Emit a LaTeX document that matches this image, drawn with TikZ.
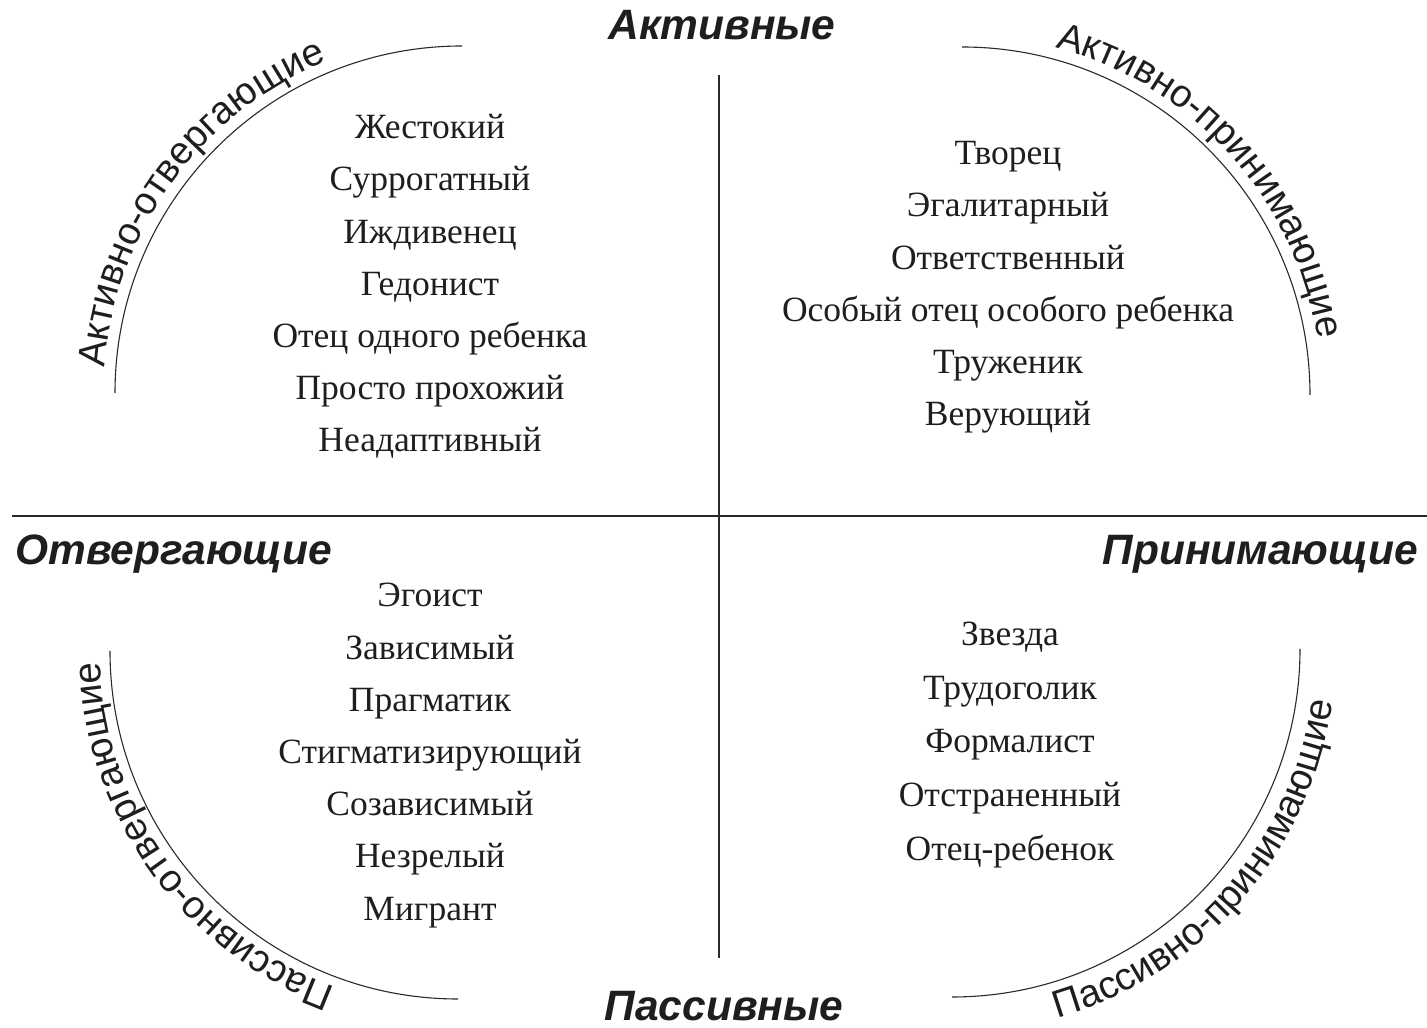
\documentclass[tikz,border=0pt]{standalone}
\usepackage{fontspec}
\setmainfont{Liberation Serif}
\newfontfamily\labelfont{Liberation Sans}
\usetikzlibrary{positioning, calc, decorations.text}
\definecolor{InkBlack}{HTML}{1E1E1E}
\definecolor{AxisGray}{HTML}{2A2A2A}

\begin{document}
\begin{tikzpicture}[
      x=1pt, y=1pt,
      axis/.style={AxisGray, line width=2pt},
      rim/.style={AxisGray, line width=1.1pt},
      pole/.style={font=\labelfont\bfseries\itshape\fontsize{42.5}{46}\selectfont, text=InkBlack, inner sep=0pt},
      types/.style={font=\fontsize{35.5}{52.2}\selectfont, align=center, text=InkBlack, inner sep=0pt},
      arclabel/.style={decorate, decoration={text along path, text align=left, text color=InkBlack,
          text={|\labelfont\fontsize{38.5}{42}\selectfont|#1}}}
  ]
    \useasboundingbox (0,0) rectangle (1427,1028);
    \fill[white] (0,0) rectangle (1427,1028);

    % axes
    \coordinate (vTop) at (719,953);
    \coordinate (vBot) at (719,70);
    \coordinate (hLeft) at (12,512);
    \coordinate (hRight) at (1427,512);
    \draw[axis] (vTop) -- (vBot);
    \draw[axis] (hLeft) -- (hRight);

    % poles
    \node[pole] (active) at (722,1003) {Активные};
    \node[pole] (passive) at (724,22) {Пассивные};
    \node[pole, anchor=west] (rejecting) at (15,474) {Отвергающие};
    \node[pole, anchor=east] (accepting) at (1418,474) {Принимающие};

    % quarter arcs
    \coordinate (tlC) at (462,635);
    \coordinate (trC) at (962,633);
    \coordinate (blC) at (458,377);
    \coordinate (brC) at (952,379);
    \draw[rim] ($(tlC)+(90:347pt)$) arc[start angle=90, end angle=180, radius=347pt];
    \draw[rim] ($(trC)+(90:348pt)$) arc[start angle=90, end angle=0, radius=348pt];
    \draw[rim] ($(blC)+(180:348pt)$) arc[start angle=180, end angle=270, radius=348pt];
    \draw[rim] ($(brC)+(0:348pt)$) arc[start angle=0, end angle=-90, radius=348pt];

    \path[arclabel=Активно-отвергающие] ($(tlC)+(176:358pt)$) arc[start angle=176, end angle=88, radius=358pt];
    \path[arclabel=Активно-принимающие] ($(trC)+(75:360pt)$) arc[start angle=75, end angle=-12, radius=360pt];
    \path[arclabel=Пассивно-отвергающие] ($(blC)+(250:358pt)$) arc[start angle=250, end angle=164, radius=358pt];
    \path[arclabel=Пассивно-принимающие] ($(brC)+(-74:384pt)$) arc[start angle=-74, end angle=12, radius=384pt];

    % types of fathers
    \node[types] (tlList) at (430,741.5) {Жестокий\\Суррогатный\\Иждивенец\\Гедонист\\Отец одного ребенка\\Просто прохожий\\Неадаптивный};
    \node[types] (trList) at (1008,740.5) {Творец\\Эгалитарный\\Ответственный\\Особый отец особого ребенка\\Труженик\\Верующий};
    \node[types] (blList) at (430,272.5) {Эгоист\\Зависимый\\Прагматик\\Стигматизирующий\\Созависимый\\Незрелый\\Мигрант};
    \node[types, font=\fontsize{35.5}{53.7}\selectfont] (brList) at (1010,283) {Звезда\\Трудоголик\\Формалист\\Отстраненный\\Отец-ребенок};
  \end{tikzpicture}
\end{document}
